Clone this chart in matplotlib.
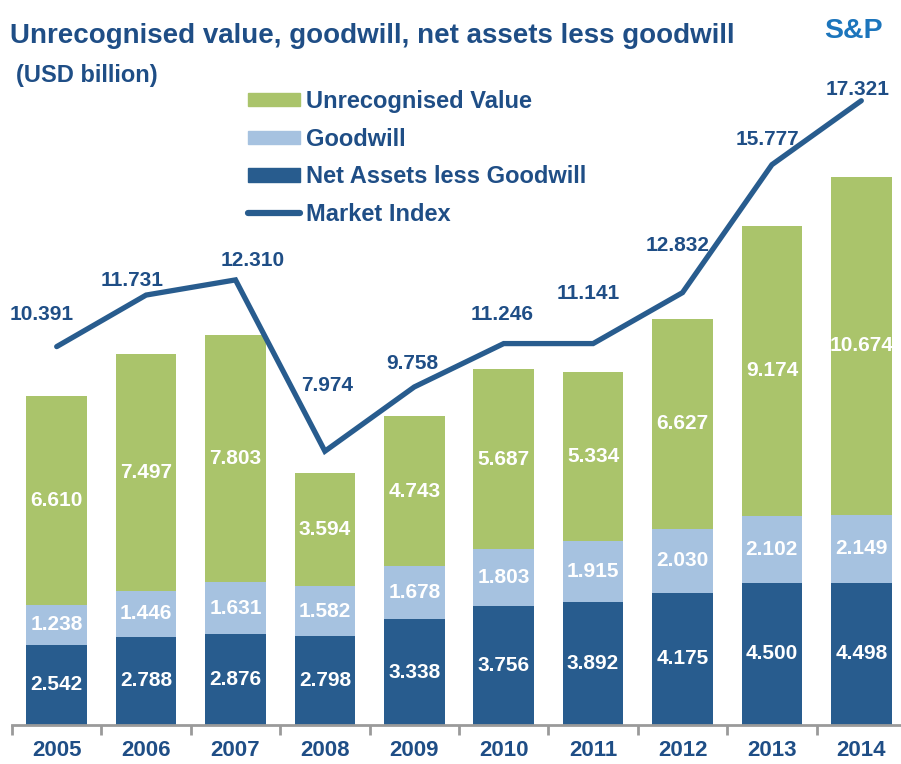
import matplotlib
matplotlib.use("Agg")
import matplotlib.pyplot as plt
from matplotlib.patches import Patch
from matplotlib.lines import Line2D
import numpy as np

plt.rcParams['font.family'] = ['Liberation Sans', 'DejaVu Sans']
plt.rcParams['font.weight'] = 'bold'

# ---------------- data ----------------
years = ['2005', '2006', '2007', '2008', '2009', '2010', '2011', '2012', '2013', '2014']
net_assets = [2.542, 2.788, 2.876, 2.798, 3.338, 3.756, 3.892, 4.175, 4.500, 4.498]
goodwill = [1.238, 1.446, 1.631, 1.582, 1.678, 1.803, 1.915, 2.030, 2.102, 2.149]
unrecognised = [6.610, 7.497, 7.803, 3.594, 4.743, 5.687, 5.334, 6.627, 9.174, 10.674]
market_index = [1248, 1418, 1468, 903, 1115, 1258, 1258, 1426, 1848, 2059]
market_labels = ['10.391', '11.731', '12.310', '7.974', '9.758', '11.246', '11.141',
                 '12.832', '15.777', '17.321']

# label offsets (pixels, x right / y up) for the market index labels
label_dx = [-15, -14, 17, 2, -2, -2, -5, -5, -4, -4]
label_dy = [34, 17, 21, 68, 25, 31, 52, 49, 27, 13]

# ---------------- style ----------------
C_DARK = '#285C8E'
C_LIGHT = '#A6C2E0'
C_GREEN = '#AAC46B'
C_TEXT = '#1F4E86'
C_SP = '#1C75BC'
C_AXIS = '#9A9A9A'

W, H = 901, 764
fig = plt.figure(figsize=(W / 100, H / 100), dpi=100)

base_px = 725
top_px = 92
ax = fig.add_axes([12 / W, 1 - base_px / H, (906 - 12) / W, (base_px - top_px) / H])

x = np.arange(len(years))
bw = 0.68
b1 = ax.bar(x, net_assets, bw, color=C_DARK, label='Net Assets less Goodwill', zorder=2)
b2 = ax.bar(x, goodwill, bw, bottom=net_assets, color=C_LIGHT, label='Goodwill', zorder=2)
bottom3 = np.array(net_assets) + np.array(goodwill)
b3 = ax.bar(x, unrecognised, bw, bottom=bottom3, color=C_GREEN, label='Unrecognised Value', zorder=2)

for bars in (b1, b2, b3):
    ax.bar_label(bars, labels=[f'{v:.3f}' for v in bars.datavalues], label_type='center',
                 color='white', fontsize=15, fontweight='bold')

ax.set_xlim(-0.5, len(years) - 0.5)
ax.set_ylim(0, (base_px - top_px) / 31.65)
ax.set_yticks([])
for s in ('top', 'right', 'left'):
    ax.spines[s].set_visible(False)
ax.spines['bottom'].set_color(C_AXIS)
ax.spines['bottom'].set_linewidth(2)
ax.set_xticks(x)
ax.set_xticklabels(years, color=C_TEXT, fontsize=16, fontweight='bold')
ax.tick_params(axis='x', which='major', length=0, pad=11)
ax.set_xticks(np.arange(-0.5, len(years), 1.0), minor=True)
ax.tick_params(axis='x', which='minor', length=7, width=2, color=C_AXIS)

# secondary axis for market index
ax2 = ax.twinx()
ax2.set_ylim(0, (base_px - top_px) / 0.3032)
ax2.axis('off')
ax2.plot(x, market_index, color=C_DARK, lw=3.8, solid_capstyle='round',
         solid_joinstyle='miter', zorder=3)
for i, (v, lab) in enumerate(zip(market_index, market_labels)):
    ax2.annotate(lab, xy=(x[i], v), xytext=(label_dx[i], label_dy[i] - 7.5),
                 textcoords='offset pixels', ha='center', va='baseline',
                 color=C_TEXT, fontsize=15, fontweight='bold')

# legend
handles = [Patch(color=C_GREEN), Patch(color=C_LIGHT), Patch(color=C_DARK),
           Line2D([0], [0], color=C_DARK, lw=4.5, solid_capstyle='round')]
labels = ['Unrecognised Value', 'Goodwill', 'Net Assets less Goodwill', 'Market Index']
leg = fig.legend(handles, labels, loc='upper left', bbox_to_anchor=(248 / W, 1 - 90 / H),
                 frameon=False, prop={'size': 17, 'weight': 'bold'},
                 handlelength=2.2, handleheight=0.5, handletextpad=0.25,
                 labelspacing=0.62, borderpad=0, borderaxespad=0)
for t in leg.get_texts():
    t.set_color(C_TEXT)

# titles
fig.text(10 / W, 1 - 43 / H, 'Unrecognised value, goodwill, net assets less goodwill',
         color=C_TEXT, fontsize=20, fontweight='bold', ha='left', va='baseline')
fig.text(16 / W, 1 - 82 / H, '(USD billion)', color=C_TEXT, fontsize=17,
         fontweight='bold', ha='left', va='baseline')
fig.text(824 / W, 1 - 38 / H, 'S&P', color=C_SP, fontsize=20.5,
         fontweight='bold', ha='left', va='baseline')

fig.savefig('out.png', dpi=100)
